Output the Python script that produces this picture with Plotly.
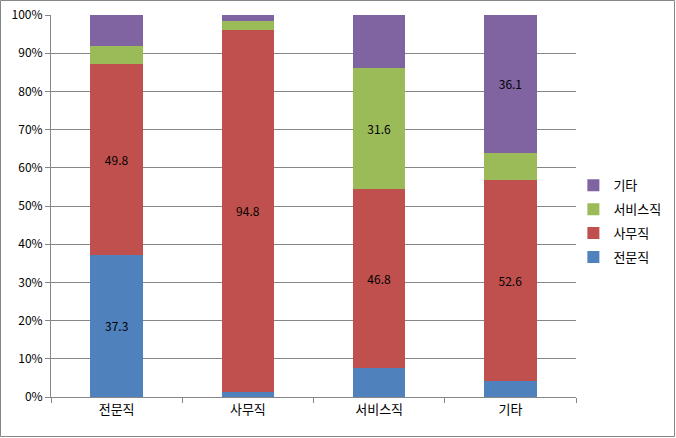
import plotly.graph_objects as go

categories = ["전문직", "사무직", "서비스직", "기타"]
series_names = ["전문직", "사무직", "서비스직", "기타"]
v_professional = [37.3, 1.3, 7.7, 4.3]
v_office = [49.8, 94.8, 46.8, 52.6]
v_service = [4.9, 2.3, 31.6, 7.0]
v_other = [7.9, 1.6, 13.9, 36.1]
colors = ["#4F81BD", "#C0504D", "#9BBB59", "#8064A2"]
label_threshold = 30

series_values = [v_professional, v_office, v_service, v_other]

font_family = "Noto Sans CJK KR, Malgun Gothic, sans-serif"

fig = go.Figure()
n = len(series_names)
for i, (name, vals, col) in enumerate(zip(series_names, series_values, colors)):
    fig.add_trace(go.Bar(
        x=categories, y=vals, name=name, legendgroup=name, legendrank=n - i,
        marker=dict(color=col, line=dict(width=0)),
        text=[f"{v:.1f}" if v >= label_threshold else "" for v in vals],
        textposition="inside", insidetextanchor="middle", textangle=0,
        constraintext="none",
        textfont=dict(color="#000000", size=12, family=font_family),
        width=0.4,
    ))

W, H = 676, 438
ml, mr, mt, mb = 51, 100, 15, 41
pw, ph = W - ml - mr, H - mt - mb

fig.update_layout(
    width=W, height=H,
    margin=dict(l=ml, r=mr, t=mt, b=mb, autoexpand=False),
    barmode="stack",
    plot_bgcolor="white", paper_bgcolor="white",
    font=dict(family=font_family, size=12, color="#000000"),
    showlegend=True,
    legend=dict(traceorder="grouped", x=0.995, xanchor="left", y=0.46, yanchor="middle",
                font=dict(size=13, family=font_family), itemwidth=30, tracegroupgap=4,
                bgcolor="rgba(0,0,0,0)"),
    xaxis=dict(showline=True, linecolor="#868686", linewidth=1, ticks="outside",
               tickson="boundaries", ticklen=5, tickcolor="#868686", automargin=False,
               tickfont=dict(size=13), showgrid=False),
    yaxis=dict(range=[0, 100], dtick=10, ticksuffix="%", showline=True, linecolor="#868686",
               linewidth=1, ticks="outside", ticklen=5, tickcolor="#868686", automargin=False,
               gridcolor="#868686", gridwidth=1, tickfont=dict(size=12), zeroline=False),
    shapes=[dict(type="rect", xref="paper", yref="paper",
                 x0=(0.5 - ml) / pw, x1=(W - 1.5 - ml) / pw,
                 y0=-(mb - 1.5) / ph,
                 y1=(ph + mt - 0.5) / ph,
                 line=dict(color="#868686", width=1), fillcolor="rgba(0,0,0,0)", layer="below")],
)

fig.write_html("out.html")
